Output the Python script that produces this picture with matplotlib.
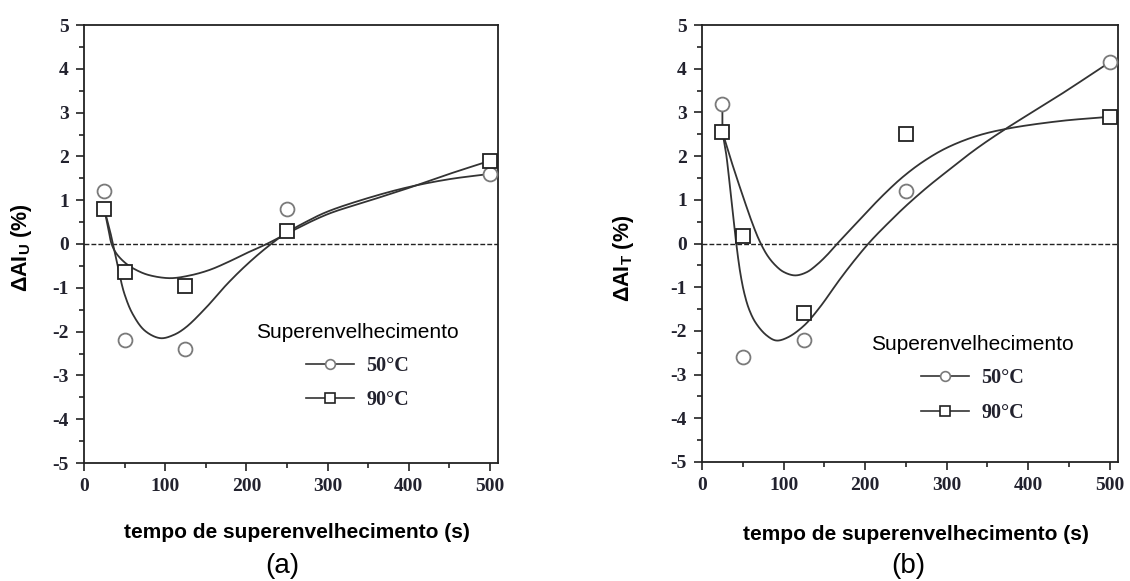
import numpy as np
import matplotlib
matplotlib.use('Agg')
import matplotlib.pyplot as plt
from matplotlib.lines import Line2D
from matplotlib.ticker import MultipleLocator

plt.rcParams['axes.unicode_minus'] = False
plt.rcParams['mathtext.fontset'] = 'custom'
plt.rcParams['mathtext.rm'] = 'Liberation Sans:bold'
plt.rcParams['mathtext.it'] = 'Liberation Sans:bold'
plt.rcParams['mathtext.bf'] = 'Liberation Sans:bold'

# pontos medidos
tempo = [25, 50, 125, 250, 500]
au_50 = [1.2, -2.2, -2.4, 0.8, 1.6]
au_90 = [0.8, -0.65, -0.97, 0.3, 1.9]
at_50 = [3.2, -2.6, -2.2, 1.2, 4.15]
at_90 = [2.55, 0.18, -1.6, 2.5, 2.9]

# curvas ajustadas
fit_a50_x = [25, 32, 38, 44, 50, 60, 75, 94, 110, 125, 150, 176, 200, 225, 250, 275, 300, 350, 400, 450, 500]
fit_a50_y = [0.8, 0.3, -0.2, -0.72, -1.15, -1.6, -1.98, -2.15, -2.08, -1.91, -1.46, -0.92, -0.48, -0.08, 0.26, 0.52, 0.74, 1.05, 1.3, 1.48, 1.6]
fit_a90_x = [25, 30, 34, 40, 52, 65, 80, 106, 130, 155, 180, 200, 225, 250, 300, 350, 400, 450, 500]
fit_a90_y = [0.8, 0.35, 0.0, -0.22, -0.45, -0.6, -0.71, -0.78, -0.72, -0.59, -0.39, -0.21, 0.0, 0.24, 0.68, 0.98, 1.28, 1.6, 1.9]
fit_b50_x = [25, 25.5, 30, 36, 42, 47, 52, 58, 66, 79, 91, 105, 125, 144, 169, 188, 207, 230, 250, 275, 299, 335, 372, 438, 500]
fit_b50_y = [3.2, 2.55, 2.0, 1.0, 0, -0.68, -1.15, -1.52, -1.82, -2.1, -2.22, -2.15, -1.88, -1.47, -0.82, -0.36, 0.06, 0.5, 0.86, 1.27, 1.63, 2.15, 2.62, 3.39, 4.15]
fit_b90_x = [25, 34, 43, 52, 61, 70, 80, 90, 100, 114, 128, 140, 153, 166, 185, 205, 225, 246, 270, 299, 335, 372, 438, 500]
fit_b90_y = [2.55, 2.0, 1.48, 0.98, 0.5, 0.08, -0.27, -0.5, -0.65, -0.73, -0.66, -0.5, -0.27, 0, 0.38, 0.78, 1.16, 1.52, 1.86, 2.18, 2.45, 2.62, 2.8, 2.9]

legenda_titulo = 'Superenvelhecimento'
legenda_rotulos = ['50°C', '90°C']
xlabel = 'tempo de superenvelhecimento (s)'

W, H = 1130, 581
CURVA = '#333333'
TXT = '#22222e'


def suave(xs, ys, n=30, sx=0.81, sy=43.8):
    # catmull-rom centripeta, em escala de pixel, so pra desenhar a linha lisa
    p = np.column_stack([np.asarray(xs) * sx, np.asarray(ys) * sy]).astype(float)
    p = np.vstack([2 * p[0] - p[1], p, 2 * p[-1] - p[-2]])
    out = []
    for i in range(1, len(p) - 2):
        p0, p1, p2, p3 = p[i - 1], p[i], p[i + 1], p[i + 2]
        t0 = 0.0
        t1 = t0 + np.linalg.norm(p1 - p0) ** 0.5
        t2 = t1 + np.linalg.norm(p2 - p1) ** 0.5
        t3 = t2 + np.linalg.norm(p3 - p2) ** 0.5
        t = np.linspace(t1, t2, n, endpoint=False)[:, None]
        a1 = (t1 - t) / (t1 - t0) * p0 + (t - t0) / (t1 - t0) * p1
        a2 = (t2 - t) / (t2 - t1) * p1 + (t - t1) / (t2 - t1) * p2
        a3 = (t3 - t) / (t3 - t2) * p2 + (t - t2) / (t3 - t2) * p3
        b1 = (t2 - t) / (t2 - t0) * a1 + (t - t0) / (t2 - t0) * a2
        b2 = (t3 - t) / (t3 - t1) * a2 + (t - t1) / (t3 - t1) * a3
        out.append((t2 - t) / (t2 - t1) * b1 + (t - t1) / (t2 - t1) * b2)
    out.append(p[-2][None, :])
    out = np.vstack(out)
    return out[:, 0] / sx, out[:, 1] / sy


def painel(ax, y50, y90, f50, f90, leg_xy):
    x, y = suave(*f50)
    ax.plot(x, y, color=CURVA, lw=1.3, zorder=2)
    x, y = suave(*f90)
    ax.plot(x, y, color=CURVA, lw=1.3, zorder=2)
    ax.axhline(0, color='#222222', lw=1.0, ls=(0, (3.5, 1.5)), zorder=1)
    ax.plot(tempo, y50, ls='none', marker='o', ms=10, mfc='white', mec='#7a7a7a', mew=1.3, zorder=3)
    ax.plot(tempo, y90, ls='none', marker='s', ms=9.5, mfc='white', mec='#222222', mew=1.3, zorder=3)

    ax.set_xlim(0, 510)
    ax.set_ylim(-5, 5)
    ax.xaxis.set_major_locator(MultipleLocator(100))
    ax.xaxis.set_minor_locator(MultipleLocator(50))
    ax.yaxis.set_major_locator(MultipleLocator(1))
    ax.yaxis.set_minor_locator(MultipleLocator(0.5))
    ax.tick_params(which='both', direction='out', width=1.2, colors='#222222', labelcolor=TXT)
    ax.tick_params(which='major', length=6, pad=5)
    ax.tick_params(which='minor', length=3.5)
    for s in ax.spines.values():
        s.set_linewidth(1.3)
        s.set_color('#222222')
    for lab in ax.get_xticklabels() + ax.get_yticklabels():
        lab.set_fontfamily('Liberation Serif')
        lab.set_fontweight('bold')
        lab.set_fontsize(14)

    h50 = Line2D([], [], color=CURVA, lw=1.2, marker='o', ms=7, mfc='white', mec='#7a7a7a', mew=1.2)
    h90 = Line2D([], [], color=CURVA, lw=1.2, marker='s', ms=6.5, mfc='white', mec='#222222', mew=1.2)
    ax.legend([h50, h90], legenda_rotulos, title=legenda_titulo, frameon=False,
              loc='center', bbox_to_anchor=leg_xy,
              prop=dict(family='Liberation Serif', weight='bold', size=14.5),
              title_fontproperties=dict(family='Liberation Sans', size=15),
              handlelength=2.4, handletextpad=0.6, labelspacing=0.7, labelcolor=TXT)


fig = plt.figure(figsize=(W / 100, H / 100), dpi=100)
ax1 = fig.add_axes([84 / W, 1 - 463 / H, 414 / W, 438 / H])
ax2 = fig.add_axes([702 / W, 1 - 462 / H, 416 / W, 437 / H])

painel(ax1, au_50, au_90, (fit_a50_x, fit_a50_y), (fit_a90_x, fit_a90_y), (0.66, 0.22))
painel(ax2, at_50, at_90, (fit_b50_x, fit_b50_y), (fit_b90_x, fit_b90_y), (0.65, 0.19))

sans_b = dict(family='Liberation Sans', weight='bold', color='black')
fig.text(22 / W, 1 - 248 / H, r'$\Delta\mathrm{AI}_\mathrm{U}$ (%)', rotation=90, ha='center', va='center', fontsize=15.5, **sans_b)
fig.text(623 / W, 1 - 258 / H, r'$\Delta\mathrm{AI}_\mathrm{T}$ (%)', rotation=90, ha='center', va='center', fontsize=15.5, **sans_b)
fig.text(297 / W, 1 - 533 / H, xlabel, ha='center', va='center', fontsize=15, **sans_b)
fig.text(916 / W, 1 - 535 / H, xlabel, ha='center', va='center', fontsize=15, **sans_b)
fig.text(282 / W, 1 - 566 / H, '(a)', ha='center', va='center', fontsize=20, family='Liberation Sans')
fig.text(908 / W, 1 - 566 / H, '(b)', ha='center', va='center', fontsize=20, family='Liberation Sans')

fig.savefig('out.png', dpi=100)
